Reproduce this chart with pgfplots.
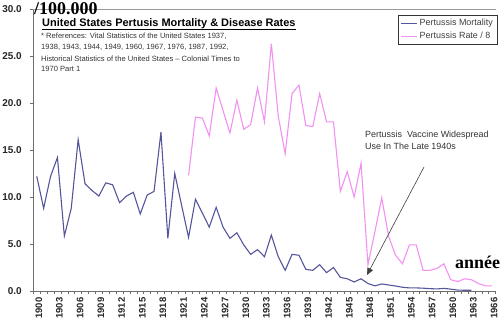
\documentclass[border=0pt]{standalone}
\usepackage{pgfplots}
\pgfplotsset{compat=1.18}
\usepackage{fontspec}
\setmainfont{Liberation Sans}
\newfontfamily\timesfont{Liberation Serif}
\usetikzlibrary{arrows.meta}
\definecolor{mort}{RGB}{85,85,155}
\definecolor{rate}{RGB}{242,145,242}
\definecolor{axgray}{RGB}{110,110,110}

\pgfplotstableread{
year val
1900 12.2
1901 8.8
1902 12.2
1903 14.2
1904 5.85
1905 8.8
1906 16.1
1907 11.4
1908 10.7
1909 10.1
1910 11.5
1911 11.3
1912 9.4
1913 10.1
1914 10.5
1915 8.2
1916 10.2
1917 10.6
1918 16.9
1919 5.6
1920 12.5
1921 9.1
1922 5.7
1923 9.75
1924 8.3
1925 6.8
1926 8.9
1927 6.8
1928 5.6
1929 6.2
1930 4.9
1931 3.9
1932 4.4
1933 3.65
1934 5.95
1935 3.65
1936 2.2
1937 3.9
1938 3.8
1939 2.3
1940 2.2
1941 2.8
1942 1.95
1943 2.5
1944 1.45
1945 1.3
1946 0.96
1947 1.3
1948 0.8
1949 0.55
1950 0.75
1951 0.64
1952 0.53
1953 0.4
1954 0.33
1955 0.33
1956 0.3
1957 0.25
1958 0.22
1959 0.28
1960 0.2
1961 0.1
1962 0.08
1963 0.08
}\mortality

\pgfplotstableread{
year val
1922 12.3
1923 18.5
1924 18.4
1925 16.5
1926 21.6
1927 19.2
1928 16.8
1929 20.3
1930 17.2
1931 17.7
1932 21.6
1933 18.0
1934 26.3
1935 18.6
1936 14.6
1937 21.0
1938 21.9
1939 17.6
1940 17.5
1941 21.0
1942 18.0
1943 18.0
1944 10.6
1945 12.7
1946 10.0
1947 13.6
1948 2.8
1949 6.3
1950 9.9
1951 5.8
1952 3.8
1953 2.9
1954 4.9
1955 4.9
1956 2.2
1957 2.2
1958 2.4
1959 2.9
1960 1.2
1961 1.0
1962 1.3
1963 1.2
1964 0.8
1965 0.55
1966 0.55
}\ratetable

\begin{document}
\begin{tikzpicture}[x=1bp,y=1bp]
\path[use as bounding box] (0,0) rectangle (500,328);
\begin{axis}[
  at={(33.3bp,37bp)}, anchor=south west,
  scale only axis, width=462.3bp, height=282bp,
  xmin=1899.5, xmax=1966.5, ymin=0, ymax=30,
  axis lines=left,
  axis line style={-, draw=axgray, line width=0.8bp},
  xtick={1900,1903,...,1966},
  xticklabels={1900,1903,1906,1909,1912,1915,1918,1921,1924,1927,1930,1933,1936,1939,1942,1945,1948,1951,1954,1957,1960,1963,1966},
  minor xtick={1899.5,1900.5,...,1966.5},
  ytick={0,5,...,30},
  tick align=outside, major tick length=3bp, minor tick length=3bp,
  major x tick style={draw=none},
  tick style={axgray, line width=0.6bp},
  yticklabel style={font=\bfseries\fontsize{10}{12}\selectfont, xshift=-5bp, text=black!85, /pgf/number format/fixed, /pgf/number format/fixed zerofill, /pgf/number format/precision=1, /pgf/number format/assume math mode=true},
  xticklabel style={rotate=90, anchor=east, yshift=-2bp, text=black!85, font=\bfseries\fontsize{9.5}{11}\selectfont},
  legend style={at={(1,1)}, anchor=north east, xshift=1.5bp, yshift=-6bp,
    font=\fontsize{9}{11}\selectfont, text=black!75, draw=black!80, fill=white,
    inner xsep=2bp, inner ysep=2bp, row sep=1bp},
  legend cell align=left,
  legend image code/.code={\draw[#1] (0bp,0bp) -- (16bp,0bp);},
  clip=false,
]
\draw[gray!80, line width=0.6bp] (rel axis cs:0,1) -- (rel axis cs:1,1);
\addplot[mort, line width=1.1bp, mark=none] table[x=year,y=val] {\mortality};
\addlegendentry{Pertussis Mortality}
\addplot[rate, line width=1.1bp, mark=none] table[x=year,y=val] {\ratetable};
\addlegendentry{Pertussis Rate / 8}
\end{axis}
\node[anchor=base west, inner sep=0, font=\timesfont\bfseries\fontsize{18}{18}\selectfont] at (34,314) {/100.000};
\node[anchor=base west, inner sep=0, font=\bfseries\fontsize{11}{12}\selectfont] at (42,302) {\underline{United States Pertusis Mortality \& Disease Rates}};
\node[anchor=base west, inner sep=0, text=black!80, font=\fontsize{7.6}{11}\selectfont] at (41,290) {* References: Vital Statistics of the United States 1937,};
\node[anchor=base west, inner sep=0, text=black!80, font=\fontsize{7.6}{11}\selectfont] at (41,278.5) {1938, 1943, 1944, 1949, 1960, 1967, 1976, 1987, 1992,};
\node[anchor=base west, inner sep=0, text=black!80, font=\fontsize{7.6}{11}\selectfont] at (41,267) {Historical Statistics of the United States -- Colonial Times to};
\node[anchor=base west, inner sep=0, text=black!80, font=\fontsize{7.6}{11}\selectfont] at (41,256.5) {1970 Part 1};
\node[anchor=base west, inner sep=0, text=black!80, font=\fontsize{9}{11}\selectfont] at (365,191) {Pertussis\ \ Vaccine Widespread};
\node[anchor=base west, inner sep=0, text=black!80, font=\fontsize{9}{11}\selectfont] at (365,178.5) {Use In The Late 1940s};
\draw[black!75, line width=0.6bp, -{Triangle[length=7bp,width=6bp]}] (424,161) -- (367,53);
\node[anchor=base west, inner sep=0, font=\timesfont\bfseries\fontsize{18}{18}\selectfont] at (455,60) {année};
\end{tikzpicture}
\end{document}
